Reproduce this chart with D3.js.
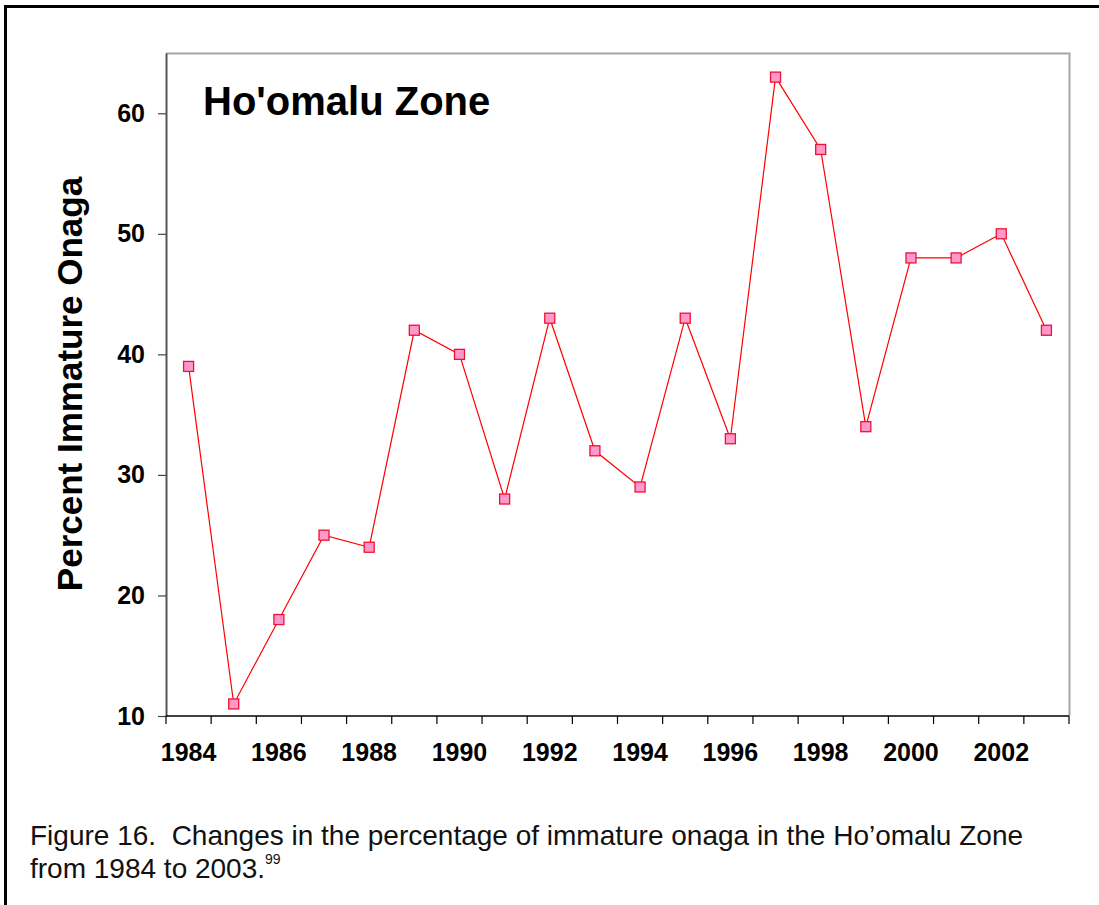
<!DOCTYPE html>
<html>
<head>
<meta charset="utf-8">
<script src="https://cdn.jsdelivr.net/npm/d3@7"></script>
<style>
  body { margin: 0; background: #fff; }
  svg { display: block; font-family: "Liberation Sans", Arial, sans-serif; }
</style>
</head>
<body>
<svg></svg>
<script>
const width = 1099;
const height = 905;

// data
const years = [1984, 1985, 1986, 1987, 1988, 1989, 1990, 1991, 1992, 1993,
               1994, 1995, 1996, 1997, 1998, 1999, 2000, 2001, 2002, 2003];
const percentImmature = [39, 11, 18, 25, 24, 42, 40, 28, 43, 32,
                         29, 43, 33, 63, 57, 34, 48, 48, 50, 42];
const yTicks = [10, 20, 30, 40, 50, 60];
const xLabelYears = [1984, 1986, 1988, 1990, 1992, 1994, 1996, 1998, 2000, 2002];

const plot = { left: 166, right: 1069, top: 53, bottom: 716 };

const svg = d3.select("svg")
  .attr("width", width)
  .attr("height", height);

svg.append("rect")
  .attr("width", width)
  .attr("height", height)
  .attr("fill", "#fff");

// page border (left + top)
svg.append("path")
  .attr("d", `M5.5,${height} L5.5,6.5 L${width},6.5`)
  .attr("fill", "none")
  .attr("stroke", "#000")
  .attr("stroke-width", 3);

const x = d3.scaleBand()
  .domain(years)
  .range([plot.left, plot.right])
  .padding(0);

const y = d3.scaleLinear()
  .domain([10, 65])
  .range([plot.bottom, plot.top]);

// frame: top and right in light gray
svg.append("path")
  .attr("d", `M${plot.left},${plot.top + 0.5} L${plot.right + 0.5},${plot.top + 0.5} L${plot.right + 0.5},${plot.bottom}`)
  .attr("fill", "none")
  .attr("stroke", "#a6a6a6")
  .attr("stroke-width", 2);

// y axis
const yAxis = svg.append("g")
  .attr("transform", `translate(${plot.left},0)`)
  .call(d3.axisLeft(y)
    .tickValues(yTicks)
    .tickSize(8)
    .tickSizeOuter(0)
    .tickPadding(13)
    .tickFormat(d3.format("d")));

yAxis.select(".domain")
  .attr("stroke", "#555")
  .attr("stroke-width", 2);
yAxis.selectAll(".tick line").attr("stroke", "#444").attr("stroke-width", 1.2);
yAxis.selectAll(".tick text")
  .attr("fill", "#000")
  .attr("font-size", 25)
  .attr("font-weight", "bold")
  .attr("font-family", "Liberation Sans, Arial, sans-serif");

// x axis (category style: ticks at band boundaries)
const xAxis = svg.append("g");

xAxis.append("line")
  .attr("x1", plot.left)
  .attr("x2", plot.right)
  .attr("y1", plot.bottom)
  .attr("y2", plot.bottom)
  .attr("stroke", "#000")
  .attr("stroke-width", 1.5);

const boundaries = years.map(function(d) { return x(d); }).concat([x.range()[1]]);

xAxis.selectAll("line.xtick")
  .data(boundaries)
  .join("line")
  .attr("class", "xtick")
  .attr("x1", function(d) { return d; })
  .attr("x2", function(d) { return d; })
  .attr("y1", plot.bottom)
  .attr("y2", plot.bottom + 8)
  .attr("stroke", "#000")
  .attr("stroke-width", 1.2);

xAxis.selectAll("text.xlabel")
  .data(xLabelYears)
  .join("text")
  .attr("class", "xlabel")
  .attr("x", function(d) { return x(d) + x.bandwidth() / 2; })
  .attr("y", 761)
  .attr("text-anchor", "middle")
  .attr("font-size", 25)
  .attr("font-weight", "bold")
  .text(function(d) { return d; });

// series
const points = years.map(function(d, i) { return { year: d, value: percentImmature[i] }; });

const line = d3.line()
  .x(function(d) { return x(d.year) + x.bandwidth() / 2; })
  .y(function(d) { return y(d.value); });

svg.append("path")
  .datum(points)
  .attr("d", line)
  .attr("fill", "none")
  .attr("stroke", "#ff0000")
  .attr("stroke-width", 1.2);

const markerSize = 10;

svg.selectAll("rect.marker")
  .data(points)
  .join("rect")
  .attr("class", "marker")
  .attr("x", function(d) { return x(d.year) + x.bandwidth() / 2 - markerSize / 2; })
  .attr("y", function(d) { return y(d.value) - markerSize / 2; })
  .attr("width", markerSize)
  .attr("height", markerSize)
  .attr("fill", "#ff99cc")
  .attr("stroke", "#ee1133")
  .attr("stroke-width", 1.3);

// title inside plot
svg.append("text")
  .attr("x", 203)
  .attr("y", 115)
  .attr("font-size", 40)
  .attr("font-weight", "bold")
  .text("Ho'omalu Zone");

// y axis title
svg.append("text")
  .attr("transform", "translate(82,384) rotate(-90)")
  .attr("text-anchor", "middle")
  .attr("font-size", 35)
  .attr("font-weight", "bold")
  .text("Percent Immature Onaga");

// caption
svg.append("text")
  .attr("x", 30)
  .attr("y", 845)
  .attr("font-size", 28)
  .attr("fill", "#111")
  .attr("xml:space", "preserve")
  .text("Figure 16.  Changes in the percentage of immature onaga in the Ho\u2019omalu Zone");

const cap2 = svg.append("text")
  .attr("x", 30)
  .attr("y", 878)
  .attr("font-size", 28)
  .attr("fill", "#111");

cap2.append("tspan").text("from 1984 to 2003.");
cap2.append("tspan")
  .attr("font-size", 14)
  .attr("dy", -14)
  .text("99");
</script>
</body>
</html>
